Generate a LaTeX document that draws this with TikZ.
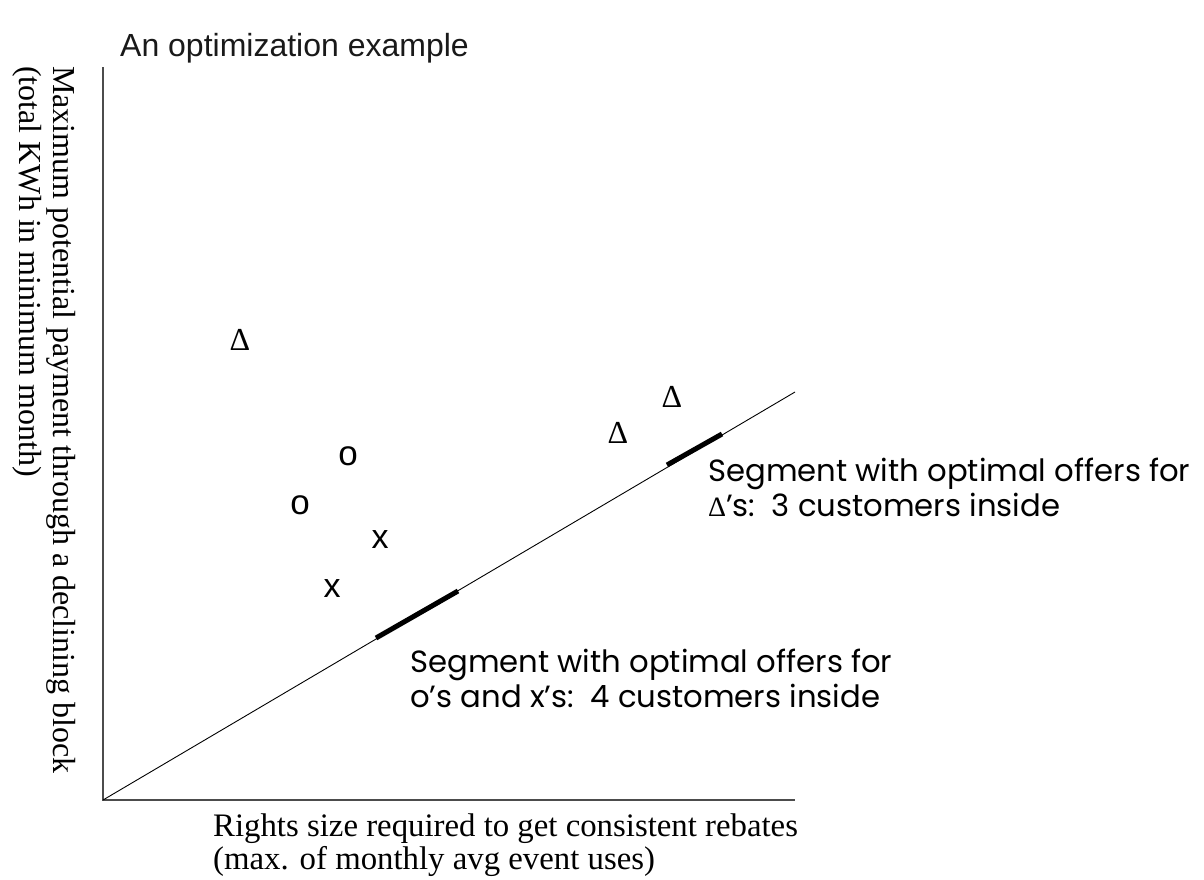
\documentclass[tikz,border=0pt]{standalone}
\usepackage{fontspec}
\setmainfont{Liberation Serif}
\newfontfamily\arialf{Liberation Sans}
\newfontfamily\gothf{Poppins}
\newfontfamily\timesf{Liberation Serif}
\begin{document}
\begin{tikzpicture}[x=1pt,y=-1pt,
  axis/.style={line width=1.8pt,draw=black!70},
  diag/.style={line width=0.9pt},
  seg/.style={line width=5pt},
  mk/.style={inner sep=0pt,font=\arialf\fontsize{34}{34}\selectfont},
  omk/.style={inner sep=0pt,font=\arialf\fontsize{35}{35}\selectfont},
  dmk/.style={inner sep=0pt,font=\timesf\fontsize{32}{32}\selectfont},
  lbl/.style={inner sep=0pt,anchor=base west,align=left,font=\gothf\fontsize{30.7}{35}\selectfont},
  axlbl/.style={inner sep=0pt,anchor=base west,align=left,font=\timesf\fontsize{32.8}{33}\selectfont},
  aylbl/.style={inner sep=0pt,anchor=base west,align=left,font=\timesf\fontsize{32}{35}\selectfont}]
\useasboundingbox (0,0) rectangle (1204,879);
\node[inner sep=0pt,anchor=base west,font=\arialf\fontsize{32}{32}\selectfont,text=black!90] (title) at (120,56) {An optimization example};
\coordinate (o) at (103,800);
\coordinate (top) at (103,67);
\coordinate (xe) at (795,800);
\coordinate (de) at (795,392);
\draw[axis] (top) -- (o) -- (xe);
\draw[diag] (o) -- (de);
\coordinate (s1a) at (376,638);
\coordinate (s1b) at (458,591);
\coordinate (s2a) at (667,465);
\coordinate (s2b) at (722,434);
\draw[seg] (s1a) -- (s1b);
\draw[seg] (s2a) -- (s2b);
\node[dmk] (d1) at (240,340) {Δ};
\node[dmk] (d2) at (672,397) {Δ};
\node[dmk] (d3) at (618,433) {Δ};
\node[omk] (c1) at (348,456) {o};
\node[omk] (c2) at (300,505) {o};
\node[mk] (x1) at (380,540) {x};
\node[mk] (x2) at (332,589) {x};
\node[lbl] (l1) at (708,516) {Segment with optimal offers for\\{\timesf\fontsize{28}{28}\selectfont Δ}’s:\ \ 3 customers inside};
\node[lbl] (l2) at (410,707) {Segment with optimal offers for\\o’s and x’s:\ \ 4 customers inside};
\node[axlbl] (xl) at (213,869) {Rights size required to get consistent rebates\\(max. of monthly avg event uses)};
\node[aylbl,rotate=-90] (yl) at (19,66) {Maximum potential payment through a declining block\\(total KWh in minimum month)};
\end{tikzpicture}
\end{document}
